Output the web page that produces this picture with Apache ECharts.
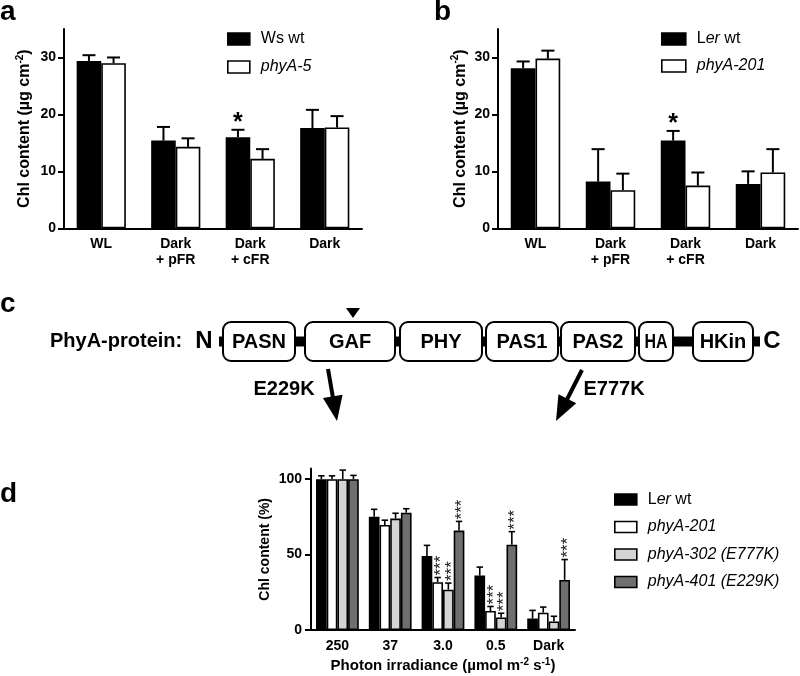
<!DOCTYPE html>
<html><head><meta charset="utf-8">
<script src="https://cdn.jsdelivr.net/npm/echarts@6/dist/echarts.min.js"></script>
<style>html,body{margin:0;padding:0;background:#fff}#c{width:800px;height:676px}</style>
</head><body><div id="c"></div>
<script>
// ---------- data ----------
const catsAB = ['WL', 'Dark\n+ pFR', 'Dark\n+ cFR', 'Dark'];
const ticksAB = [0, 10, 20, 30];
// panel a
const aWs = [29.4, 15.4, 16.0, 17.6];
const aWsErr = [1.0, 2.4, 1.3, 3.2];
const aWsSig = ['', '', '*', ''];
const aPhyA5 = [29.0, 14.3, 12.2, 17.7];
const aPhyA5Err = [1.0, 1.5, 1.7, 2.0];
const aPhyA5Sig = ['', '', '', ''];
// panel b
const bLer = [28.1, 8.2, 15.4, 7.8];
const bLerErr = [1.2, 5.7, 1.7, 2.2];
const bLerSig = ['', '', '*', ''];
const bPhyA201 = [29.8, 6.7, 7.5, 9.8];
const bPhyA201Err = [1.4, 2.9, 2.3, 4.1];
const bPhyA201Sig = ['', '', '', ''];
// panel c
const domains = ['PASN', 'GAF', 'PHY', 'PAS1', 'PAS2', 'HA', 'HKin'];
const mutations = ['E229K', 'E777K'];
// panel d
const catsD = ['250', '37', '3.0', '0.5', 'Dark'];
const ticksD = [0, 50, 100];
const dNames = ['Ler wt', 'phyA-201', 'phyA-302 (E777K)', 'phyA-401 (E229K)'];
const dLer = [100, 75.0, 49.1, 36.1, 7.6];
const dLerErr = [2.2, 5.0, 7.0, 5.6, 5.4];
const dLerSig = ['', '', '', '', ''];
const d201 = [100, 69.6, 31.7, 12.6, 11.5];
const d201Err = [2.2, 3.2, 3.1, 3.0, 3.7];
const d201Sig = ['', '', '***', '***', ''];
const d302 = [100, 73.9, 26.7, 8.3, 5.7];
const d302Err = [6.0, 3.5, 4.4, 2.8, 3.4];
const d302Sig = ['', '', '***', '***', ''];
const d401 = [100, 77.8, 65.9, 56.5, 33.2];
const d401Err = [2.5, 2.6, 6.1, 8.7, 13.5];
const d401Sig = ['', '', '***', '***', '***'];

// ---------- helpers ----------
const FF = '"Liberation Sans", Arial, sans-serif';
const chart = echarts.init(document.getElementById('c'));

function barSeries(name, gi, vals, color, gap) {
  return {
    type: 'bar', name: name, xAxisIndex: gi, yAxisIndex: gi, data: vals,
    barGap: '0%', barCategoryGap: gap, silent: true,
    itemStyle: { color: color, borderColor: '#000', borderWidth: 1.6 },
    z: 2
  };
}
function errSeries(gi, vals, errs, sigs, idx, n, gapFrac, capFrac, lw, mode) {
  return {
    type: 'custom', xAxisIndex: gi, yAxisIndex: gi, silent: true, z: 5,
    encode: { x: 0, y: 1 },
    data: vals.map((v, i) => [i, v, errs[i]]),
    renderItem: function (params, api) {
      const i = params.dataIndex;
      const ci = api.value(0), v = api.value(1), e = api.value(2);
      const p0 = api.coord([ci, v]), p1 = api.coord([ci, v + e]);
      const band = api.size([1, 0])[0];
      const bw = band * (1 - gapFrac) / n;
      const x = p0[0] + (idx - (n - 1) / 2) * bw;
      const cw = bw * capFrac;
      const st = { stroke: '#000', lineWidth: lw };
      const ch = [
        { type: 'line', shape: { x1: x, y1: p0[1], x2: x, y2: p1[1] }, style: st },
        { type: 'line', shape: { x1: x - cw / 2, y1: p1[1], x2: x + cw / 2, y2: p1[1] }, style: st }
      ];
      const s = sigs[i];
      if (s) {
        if (mode === 'single') {
          ch.push({ type: 'text', x: x, y: p1[1] - 7,
            style: { text: s, font: 'bold 25px ' + FF, align: 'center', verticalAlign: 'middle', fill: '#000' } });
        } else {
          ch.push({ type: 'text', x: x + 3.5, y: p1[1] - 2, rotation: Math.PI / 2,
            style: { text: s, font: '17px ' + FF, align: 'left', verticalAlign: 'middle', fill: '#222' } });
        }
      }
      return { type: 'group', children: ch };
    }
  };
}
function catAxis(gi, data, margin) {
  return {
    gridIndex: gi, type: 'category', data: data,
    axisLine: { lineStyle: { color: '#000', width: 2 } },
    axisTick: { show: false },
    axisLabel: { color: '#000', fontWeight: 'bold', fontSize: 14, fontFamily: FF, lineHeight: 16, margin: margin, interval: 0 }
  };
}
function valAxis(gi, max, interval, ticks, name, nameGap, nameSize, margin) {
  return {
    gridIndex: gi, type: 'value', min: 0, max: max, interval: interval,
    splitLine: { show: false },
    axisLine: { show: true, lineStyle: { color: '#000', width: 2 } },
    axisTick: { show: true, length: 6, customValues: ticks, lineStyle: { color: '#000', width: 2 } },
    axisLabel: { customValues: ticks, color: '#000', fontWeight: 'bold', fontSize: 14, fontFamily: FF, margin: margin },
    name: name, nameLocation: 'middle', nameRotate: 90, nameGap: nameGap,
    nameTextStyle: { color: '#000', fontWeight: 'bold', fontSize: nameSize, fontFamily: FF, lineHeight: 20,
      rich: { s: { fontSize: 10, fontWeight: 'bold', fontFamily: FF, verticalAlign: 'top', lineHeight: 10 } } }
  };
}
function legendFmt(name) {
  if (name === 'Ws wt') return name;
  if (name === 'Ler wt') return '{n|L}{i|er}{n| wt}';
  return '{i|' + name + '}';
}
function legend(left, top, data, iw, ih, gap) {
  return {
    left: left, top: top, orient: 'vertical', padding: 0, icon: 'rect',
    itemWidth: iw, itemHeight: ih, itemGap: gap, selectedMode: false, data: data,
    itemStyle: { borderColor: '#000', borderWidth: 1.6 },
    formatter: legendFmt,
    textStyle: { color: '#000', fontSize: 16, fontFamily: FF, lineHeight: ih, padding: [0, 0, 0, 6],
      rich: { i: { fontStyle: 'italic', fontSize: 16, fontFamily: FF, lineHeight: ih },
              n: { fontSize: 16, fontFamily: FF, lineHeight: ih } } }
  };
}

// ---------- panel c diagram ----------
const boxX = [[223, 295], [305, 395], [400, 482], [486, 558], [561, 635], [639, 673], [693, 753]];
const links = [[219, 223], [295, 305], [395, 400], [482, 486], [558, 561], [635, 639], [673, 693], [753, 760]];
const BY0 = 322, BY1 = 361;
const gfx = [];
function txt(t, x, y, font, align, sx) {
  gfx.push({ type: 'text', x: x, y: y, scaleX: sx || 1, silent: true,
    style: { text: t, font: font, align: align || 'center', verticalAlign: 'middle', fill: '#000' } });
}
txt('a', 0, 12, 'bold 28px ' + FF, 'left');
txt('b', 434, 12, 'bold 28px ' + FF, 'left');
txt('c', 0, 304, 'bold 28px ' + FF, 'left');
txt('d', 0, 494, 'bold 28px ' + FF, 'left');
txt('PhyA-protein:', 50, 341, 'bold 20px ' + FF, 'left');
txt('N', 204, 341, 'bold 24px ' + FF);
txt('C', 772, 341, 'bold 24px ' + FF);
links.forEach(l => gfx.push({ type: 'rect', silent: true, shape: { x: l[0], y: 336.5, width: l[1] - l[0], height: 10 }, style: { fill: '#000' } }));
domains.forEach((d, i) => {
  const b = boxX[i];
  gfx.push({ type: 'rect', silent: true, shape: { x: b[0], y: BY0, width: b[1] - b[0], height: BY1 - BY0, r: 8 },
    style: { fill: '#fff', stroke: '#000', lineWidth: 2 } });
  const w = b[1] - b[0];
  txt(d, (b[0] + b[1]) / 2, (BY0 + BY1) / 2 + 1, 'bold 20px ' + FF, 'center', w < 40 ? 0.8 : 1);
});
gfx.push({ type: 'polygon', silent: true, shape: { points: [[346, 308], [360, 308], [353, 318]] }, style: { fill: '#000' } });
function arrow(x0, y0, x1, y1) {
  const dx = x1 - x0, dy = y1 - y0, L = Math.hypot(dx, dy);
  const ux = dx / L, uy = dy / L, px = -uy, py = ux;
  const hl = 25, hw = 10;
  const bx = x1 - ux * hl, by = y1 - uy * hl;
  gfx.push({ type: 'line', silent: true, shape: { x1: x0, y1: y0, x2: bx + ux * 2, y2: by + uy * 2 }, style: { stroke: '#000', lineWidth: 4 } });
  gfx.push({ type: 'polygon', silent: true, shape: { points: [[x1, y1], [bx + px * hw, by + py * hw], [bx - px * hw, by - py * hw]] }, style: { fill: '#000' } });
}
arrow(328, 369, 337, 421);
arrow(582, 370, 556, 421);
txt(mutations[0], 284, 389, 'bold 20px ' + FF);
txt(mutations[1], 614, 389, 'bold 20px ' + FF);

// ---------- option ----------
const GAB = '34%', GD = '19%';
const option = {
  animation: false,
  backgroundColor: '#fff',
  textStyle: { fontFamily: FF },
  grid: [
    { left: 64, top: 29, width: 298, height: 199.3 },
    { left: 498, top: 29, width: 300, height: 199.3 },
    { left: 311, top: 468.6, width: 264, height: 164.1 }
  ],
  xAxis: [
    catAxis(0, catsAB, 8),
    catAxis(1, catsAB, 8),
    Object.assign(catAxis(2, catsD, 8), {
      name: 'Photon irradiance (µmol m{s|-2} s{s|-1})', nameLocation: 'middle', nameGap: 27,
      nameTextStyle: { color: '#000', fontWeight: 'bold', fontSize: 15, fontFamily: FF, lineHeight: 18,
        rich: { s: { fontSize: 10, fontWeight: 'bold', fontFamily: FF, verticalAlign: 'top', lineHeight: 10 } } }
    })
  ],
  yAxis: [
    valAxis(0, 35, 10, ticksAB, 'Chl content (µg cm{s|-2})', 29, 16, 8),
    valAxis(1, 35, 10, ticksAB, 'Chl content (µg cm{s|-2})', 26, 16, 8),
    valAxis(2, 107, 50, ticksD, 'Chl content (%)', 33, 14, 9)
  ],
  legend: [
    legend(227, 31, ['Ws wt', 'phyA-5'], 22, 12, 12),
    legend(661, 31, ['Ler wt', 'phyA-201'], 24, 12, 11),
    legend(614, 491.5, dNames, 22, 11, 11.5)
  ],
  graphic: gfx,
  series: [
    barSeries('Ws wt', 0, aWs, '#000', GAB),
    barSeries('phyA-5', 0, aPhyA5, '#fff', GAB),
    errSeries(0, aWs, aWsErr, aWsSig, 0, 2, 0.34, 0.53, 2, 'single'),
    errSeries(0, aPhyA5, aPhyA5Err, aPhyA5Sig, 1, 2, 0.34, 0.53, 2, 'single'),
    barSeries('Ler wt', 1, bLer, '#000', GAB),
    barSeries('phyA-201', 1, bPhyA201, '#fff', GAB),
    errSeries(1, bLer, bLerErr, bLerSig, 0, 2, 0.34, 0.53, 2, 'single'),
    errSeries(1, bPhyA201, bPhyA201Err, bPhyA201Sig, 1, 2, 0.34, 0.53, 2, 'single'),
    barSeries(dNames[0], 2, dLer, '#000', GD),
    barSeries(dNames[1], 2, d201, '#fff', GD),
    barSeries(dNames[2], 2, d302, '#d4d4d4', GD),
    barSeries(dNames[3], 2, d401, '#6f6f6f', GD),
    errSeries(2, dLer, dLerErr, dLerSig, 0, 4, 0.19, 0.6, 1.6, 'triple'),
    errSeries(2, d201, d201Err, d201Sig, 1, 4, 0.19, 0.6, 1.6, 'triple'),
    errSeries(2, d302, d302Err, d302Sig, 2, 4, 0.19, 0.6, 1.6, 'triple'),
    errSeries(2, d401, d401Err, d401Sig, 3, 4, 0.19, 0.6, 1.6, 'triple')
  ]
};
chart.setOption(option);
</script></body></html>
